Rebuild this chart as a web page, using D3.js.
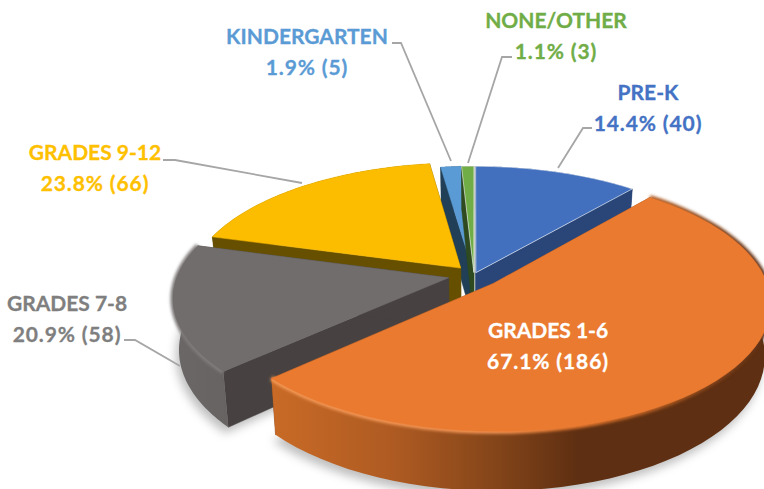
<!DOCTYPE html>
<html>
<head>
<meta charset="utf-8">
<style>
    html, body { margin: 0; padding: 0; background: #fff; overflow: hidden; }
    text { font-family: Lato, "Open Sans", sans-serif; font-weight: 700; font-size: 21px; stroke-width: 0.3px; }
</style>
<script src="https://cdn.jsdelivr.net/npm/d3@7"></script>
</head>
<body>
<div id="chart"></div>
<script>
// chart values, clockwise from 12 o'clock
const categories = ["PRE-K", "GRADES 1-6", "GRADES 7-8", "GRADES 9-12", "KINDERGARTEN", "NONE/OTHER"];
const counts = [40, 186, 58, 66, 5, 3];
const percents = ["14.4%", "67.1%", "20.9%", "23.8%", "1.9%", "1.1%"];

// how far each slice is pulled out, as a share of the radius
const explode = [0.02, 0.098, 0.096, 0.075, 0.02, 0.02];
const topColors = ["#4270be", "#ea7a30", "#716d6c", "#fcbc00", "#5b9bd5", "#70ad47"];
const wallColors = ["#2a4679", "#8a4a1e", "#474241", "#665000", "#214057", "#2e4a1e"];
const labelColors = ["#4472c4", "#ffffff", "#7f7f7f", "#ffc000", "#5b9bd5", "#70ad47"];

// label placement: centre x, first baseline, leader points
const labelPos = [
    { x: 648, y: 100, leader: [[592, 128], [583, 128], [558, 168]] },
    { x: 548, y: 338, leader: [] },
    { x: 67, y: 311, leader: [[124, 340], [135, 340], [180, 366]] },
    { x: 95, y: 160, leader: [[163, 160], [175, 160], [302, 183]] },
    { x: 307, y: 44, leader: [[392, 43], [401, 43], [451, 161]] },
    { x: 556, y: 28, leader: [[512, 57], [502, 57], [468, 163]] }
];

const width = 764, height = 489;
const cx = 474, cy = 275;      // pie centre on screen
const rx = 271, ry = 123;      // top face radii
const persp = 0.15;            // perspective strength
const thick = 50;              // wall height at the centre
const bottomShrink = 0.98;     // bottom face is a bit narrower than the top

const svg = d3.select("#chart").append("svg")
    .attr("width", width)
    .attr("height", height)
    .style("display", "block");

const defs = svg.append("defs");
defs.append("filter").attr("id", "blurShadow")
    .attr("x", "-20%").attr("y", "-20%").attr("width", "140%").attr("height", "140%")
    .append("feGaussianBlur").attr("stdDeviation", 5);
defs.append("filter").attr("id", "blurEdge")
    .attr("x", "-10%").attr("y", "-10%").attr("width", "120%").attr("height", "120%")
    .append("feGaussianBlur").attr("stdDeviation", 1.8);

function addGradient(id, x1, x2, stops) {
    const g = defs.append("linearGradient").attr("id", id)
        .attr("gradientUnits", "userSpaceOnUse")
        .attr("x1", x1).attr("x2", x2).attr("y1", 0).attr("y2", 0);
    stops.forEach(s => g.append("stop").attr("offset", s[0]).attr("stop-color", s[1]));
}
addGradient("rimOrange", 275, 764, [[0, "#c86a26"], [0.25, "#ad5a22"], [0.45, "#844519"], [0.62, "#5e2f12"], [1, "#5e2f12"]]);
addGradient("rimGrey", 174, 250, [[0, "#6b6766"], [0.7, "#676362"], [1, "#5f5b5a"]]);
addGradient("edgeOrange", 275, 764, [[0, "#f59a58"], [0.45, "#f39352"], [0.6, "#ea7a30"], [0.8, "#a9561f"], [1, "#5e2f12"]]);
addGradient("edgeGrey", 174, 250, [[0, "#807c7b"], [1, "#858180"]]);

// plane point (radius 1 = rim) to screen; drop pushes it down to the bottom face
function project(px, py, drop) {
    const w = 1 + persp * py;
    const sx = rx * px / w * (drop ? bottomShrink : 1);
    return [cx + sx, cy - ry * py / w + (drop ? thick / w : 0)];
}

const line = d3.line();

const pie = d3.pie().sort(null)(counts);

const slices = pie.map((d, i) => {
    const mid = (d.startAngle + d.endAngle) / 2;
    const ox = explode[i] * Math.sin(mid), oy = explode[i] * Math.cos(mid);
    const angles = d3.range(0, 61).map(t => d.startAngle + (d.endAngle - d.startAngle) * t / 60);
    const arcAt = drop => angles.map(a => project(ox + Math.sin(a), oy + Math.cos(a), drop));
    return {
        i,
        apexTop: project(ox, oy, false),
        apexBot: project(ox, oy, true),
        arcTop: arcAt(false),
        arcBot: arcAt(true)
    };
});

// soft shadow under the two slices that hang over the background
const shadow = svg.append("g").attr("filter", "url(#blurShadow)").attr("transform", "translate(-3,6)");
[1, 2].forEach(i => {
    const s = slices[i];
    shadow.append("path")
        .attr("d", line([s.apexBot, ...s.arcBot]) + "Z")
        .attr("fill", "#000")
        .attr("opacity", 0.25);
});

const rimFill = { 1: "url(#rimOrange)", 2: "url(#rimGrey)" };
const edgeFill = { 1: "url(#edgeOrange)", 2: "url(#edgeGrey)" };

// back to front, so nearer slices cover the walls of the ones behind
[4, 5, 0, 3, 2, 1].forEach(i => {
    const s = slices[i];
    const g = svg.append("g");
    const first = s.arcTop[0], last = s.arcTop[s.arcTop.length - 1];
    const firstB = s.arcBot[0], lastB = s.arcBot[s.arcBot.length - 1];

    // flat side walls
    [[s.apexTop, first, firstB, s.apexBot], [s.apexTop, last, lastB, s.apexBot]].forEach(q => {
        g.append("path")
            .attr("d", line(q) + "Z")
            .attr("fill", wallColors[i])
            .attr("stroke", wallColors[i])
            .attr("stroke-width", 0.5);
    });

    // outer rim
    g.append("path")
        .attr("d", line([...s.arcTop, ...s.arcBot.slice().reverse()]) + "Z")
        .attr("fill", rimFill[i] || wallColors[i]);

    // bevel along the rim on the big slices
    if (edgeFill[i]) {
        g.append("path")
            .attr("d", line(s.arcTop))
            .attr("fill", "none")
            .attr("stroke", edgeFill[i])
            .attr("stroke-width", 5)
            .attr("filter", "url(#blurEdge)");
    }

    // top face
    g.append("path")
        .attr("d", line([s.apexTop, ...s.arcTop]) + "Z")
        .attr("fill", topColors[i])
        .attr("stroke", i === 0 || i === 5 ? "#ffffff" : topColors[i])
        .attr("stroke-width", i === 0 || i === 5 ? 0.6 : 0.5);
});

// leader lines
labelPos.forEach(p => {
    if (!p.leader.length) return;
    svg.append("path")
        .attr("d", line(p.leader))
        .attr("fill", "none")
        .attr("stroke", "#a6a6a6")
        .attr("stroke-width", 1.8);
});

// labels
categories.forEach((name, i) => {
    const t = svg.append("text")
        .attr("text-anchor", "middle")
        .attr("fill", labelColors[i])
        .attr("stroke", labelColors[i]);
    t.append("tspan").attr("x", labelPos[i].x).attr("y", labelPos[i].y).text(name);
    t.append("tspan").attr("x", labelPos[i].x).attr("y", labelPos[i].y + 31)
        .attr("letter-spacing", "0.9px")
        .text(`${percents[i]} (${counts[i]})`);
});
</script>
</body>
</html>
